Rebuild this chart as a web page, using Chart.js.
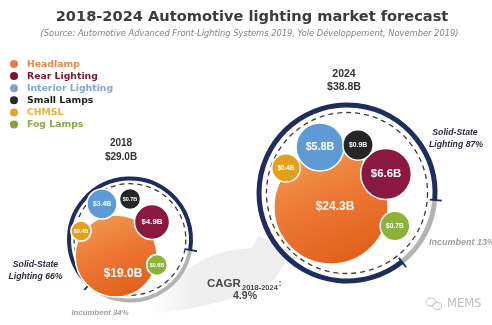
<!DOCTYPE html>
<html>
<head>
<meta charset="utf-8">
<script src="https://cdn.jsdelivr.net/npm/chart.js@4.4.1/dist/chart.umd.min.js"></script>
<style>
  html, body { margin: 0; padding: 0; background: #fff; }
  #wrap { width: 492px; height: 325px; }
</style>
</head>
<body>
<div id="wrap"><canvas id="lightingChart" width="492" height="325"></canvas></div>
<script>
// Automotive lighting market, $B per category
const categories = ['Headlamp', 'Rear Lighting', 'Interior Lighting', 'Small Lamps', 'CHMSL', 'Fog Lamps'];
const years = ['2018', '2024'];
const value2018 = [19.0, 4.9, 3.4, 0.7, 0.4, 0.6];
const value2024 = [24.3, 6.6, 5.8, 0.9, 0.4, 0.7];
const totals = [29.0, 38.8];
const solidStateShare = [66, 87];
const incumbentShare = [34, 13];
const cagrValue = 4.9;

// colours
const dotColors = ['#ea7530', '#8a1840', '#5e9bd6', '#262626', '#e2a11c', '#8db23a'];
const legendDots = ['#e38044', '#7e1433', '#7aa3d3', '#2a2a2a', '#e0a62a', '#8ca040'];
const legendText = ['#e5894e', '#7b1734', '#82a7cf', '#1e1e1e', '#e7b43a', '#8ca64a'];
const NAVY = '#1e2d5c';

// layout (chart units; the hidden scales run 0..492 and 0..325)
const ringCenters = [[130, 239.5], [347, 193]];
const ringRadius = [61, 88];
const ringWidth = [4, 5];
const incumbentMid = [71, 28]; // degrees, clockwise from 3 o'clock
const bubbleSpots = [
  [[116, 256], [152, 222], [102, 204], [130, 199], [81, 231], [157, 265]],
  [[331, 207], [386, 174], [320, 147], [358, 145], [286, 168], [395, 226]]
];
const labelNudge = [[7, 18], [4, 0]]; // headlamp label offset per year

// bubble radius grows with the category's share of the year total
function bubbleRadius(v, total, ring) {
  return ring * (0.154 + 0.79 * v / total);
}

function fillFor(ctx) {
  const i = ctx.dataIndex;
  if (i !== 0 || !ctx.raw || !ctx.chart.chartArea) return dotColors[i] || dotColors[0];
  const { x, y } = ctx.chart.scales;
  const cx = x.getPixelForValue(ctx.raw.x), cy = y.getPixelForValue(ctx.raw.y);
  const r = ctx.raw.r;
  const g = ctx.chart.ctx.createLinearGradient(cx - r * 0.6, cy - r, cx + r * 0.3, cy + r);
  g.addColorStop(0, '#f39a50');
  g.addColorStop(0.5, '#ec7633');
  g.addColorStop(1, '#e0601c');
  return g;
}

const valueSets = [value2018, value2024];
const datasets = years.map((yr, yi) => ({
  label: yr,
  data: valueSets[yi].map((v, i) => ({
    x: bubbleSpots[yi][i][0],
    y: bubbleSpots[yi][i][1],
    r: bubbleRadius(v, totals[yi], ringRadius[yi]),
    v: v
  })),
  backgroundColor: fillFor,
  borderColor: '#ffffff',
  borderWidth: 1.5
}));

function text(c, str, x, y, font, color, align, base) {
  c.font = font;
  c.fillStyle = color;
  c.textAlign = align || 'center';
  c.textBaseline = base || 'middle';
  c.fillText(str, x, y);
}

// pale growth arrow sweeping from the 2018 ring to the 2024 ring
function drawSwoosh(c) {
  const g = c.createLinearGradient(150, 0, 295, 0);
  g.addColorStop(0, 'rgba(236,236,236,0)');
  g.addColorStop(0.3, 'rgba(236,236,236,0.85)');
  g.addColorStop(1, '#ededed');
  c.save();
  c.fillStyle = g;
  c.beginPath();
  c.moveTo(148, 314);
  c.quadraticCurveTo(232, 306, 274, 280);
  c.lineTo(292, 252);
  c.lineTo(258, 236);
  c.lineTo(252, 248);
  c.quadraticCurveTo(196, 250, 166, 292);
  c.closePath();
  c.fill();
  c.restore();
}

function drawRing(c, px, py, R, yi) {
  const span = incumbentShare[yi] / 100 * Math.PI * 2;
  const mid = incumbentMid[yi] * Math.PI / 180;
  const a0 = mid - span / 2, a1 = mid + span / 2;
  c.save();
  c.lineWidth = ringWidth[yi];
  c.strokeStyle = NAVY;
  c.beginPath();
  c.arc(px, py, R, a1, a0 + Math.PI * 2);
  c.stroke();
  c.strokeStyle = '#b3b3b3';
  c.beginPath();
  c.arc(px, py, R, a0, a1);
  c.stroke();
  // boundary ticks between solid-state and incumbent arcs
  c.strokeStyle = NAVY;
  c.lineWidth = 1.8;
  [a0, a1].forEach(a => {
    c.beginPath();
    c.moveTo(px + (R - 5) * Math.cos(a), py + (R - 5) * Math.sin(a));
    c.lineTo(px + (R + 7) * Math.cos(a), py + (R + 7) * Math.sin(a));
    c.stroke();
  });
  // inner dashed guide
  c.setLineDash([5, 4]);
  c.lineWidth = 1.3;
  c.strokeStyle = '#3a3a3a';
  c.beginPath();
  c.arc(px, py, R * 0.915, 0, Math.PI * 2);
  c.stroke();
  c.restore();
}

const infographic = {
  id: 'infographic',
  beforeDatasetsDraw(chart) {
    const c = chart.ctx;
    const { x, y } = chart.scales;
    drawSwoosh(c);
    years.forEach((yr, yi) => {
      const px = x.getPixelForValue(ringCenters[yi][0]);
      const py = y.getPixelForValue(ringCenters[yi][1]);
      drawRing(c, px, py, ringRadius[yi], yi);
    });
  },
  afterDatasetsDraw(chart) {
    const c = chart.ctx;
    c.save();

    // values inside bubbles
    chart.data.datasets.forEach((ds, yi) => {
      chart.getDatasetMeta(yi).data.forEach((el, i) => {
        const r = el.options.radius;
        const size = Math.min(12, Math.max(5.5, r * 0.45));
        let lx = el.x, ly = el.y;
        if (i === 0) { lx += labelNudge[yi][0]; ly += labelNudge[yi][1]; }
        text(c, '$' + ds.data[i].v.toFixed(1) + 'B', lx, ly,
          'bold ' + size + 'px "Liberation Sans", Arial, sans-serif', '#ffffff');
      });
    });

    // title
    text(c, '2018-2024 Automotive lighting market forecast', 252, 21,
      'bold 14.6px "DejaVu Sans", Verdana, sans-serif', '#3b3b3b', 'center', 'alphabetic');
    text(c, '(Source: Automotive Advanced Front-Lighting Systems 2019, Yole Développement, November 2019)',
      249.5, 35.5, 'italic 8.3px "DejaVu Sans", Verdana, sans-serif', '#808080', 'center', 'alphabetic');

    // legend
    categories.forEach((cat, i) => {
      const ry = 64 + i * 12.1;
      c.fillStyle = legendDots[i];
      c.beginPath();
      c.arc(14, ry, 4, 0, Math.PI * 2);
      c.fill();
      text(c, cat, 27, ry + 0.5, 'bold 9.3px "DejaVu Sans", Verdana, sans-serif', legendText[i], 'left');
    });

    // year headers
    const head = [[121, 143.7, 157, 10], [344, 74, 87.5, 10.5]];
    years.forEach((yr, yi) => {
      const h = head[yi];
      text(c, yr, h[0], h[1], 'bold ' + h[3] + 'px "Liberation Sans", Arial, sans-serif', '#333333');
      text(c, '$' + totals[yi].toFixed(1) + 'B', h[0], h[2],
        'bold ' + h[3] + 'px "Liberation Sans", Arial, sans-serif', '#333333');
    });

    // solid-state / incumbent notes
    const ssFont = 'italic bold 8.7px "Liberation Sans", Arial, sans-serif';
    text(c, 'Solid-State', 35.5, 265, ssFont, '#2a2a3a');
    text(c, 'Lighting ' + solidStateShare[0] + '%', 35.5, 277, ssFont, '#2a2a3a');
    text(c, 'Solid-State', 455, 133, ssFont, '#2a2a3a');
    text(c, 'Lighting ' + solidStateShare[1] + '%', 456, 144.5, ssFont, '#2a2a3a');
    text(c, 'Incumbent ' + incumbentShare[0] + '%', 100, 313,
      'italic bold 7.8px "Liberation Sans", Arial, sans-serif', '#a0a0a0');
    text(c, 'Incumbent ' + incumbentShare[1] + '%', 429, 243,
      'italic bold 9px "Liberation Sans", Arial, sans-serif', '#a0a0a0', 'left');

    // CAGR
    text(c, 'CAGR', 207, 287, 'bold 11.5px "Liberation Sans", Arial, sans-serif', '#474747', 'left', 'alphabetic');
    text(c, '2018-2024', 242, 289.5, 'bold 7.5px "Liberation Sans", Arial, sans-serif', '#474747', 'left', 'alphabetic');
    text(c, ':', 278.5, 286, 'bold 9px "Liberation Sans", Arial, sans-serif', '#474747', 'left', 'alphabetic');
    text(c, cagrValue.toFixed(1) + '%', 245, 298.5, 'bold 10.5px "Liberation Sans", Arial, sans-serif', '#474747', 'center', 'alphabetic');

    // watermark
    c.strokeStyle = '#c4c4c4';
    c.lineWidth = 1;
    c.beginPath(); c.ellipse(431, 302, 5, 4, 0, 0, Math.PI * 2); c.stroke();
    c.beginPath(); c.ellipse(437, 306, 4.5, 3.5, 0, 0, Math.PI * 2); c.stroke();
    text(c, 'MEMS', 447, 304.5, '11.5px "DejaVu Sans", Verdana, sans-serif', '#bdbdbd', 'left');

    c.restore();
  }
};

new Chart(document.getElementById('lightingChart'), {
  type: 'bubble',
  data: { datasets },
  options: {
    responsive: false,
    animation: false,
    events: [],
    layout: { padding: 0, autoPadding: false },
    plugins: {
      legend: { display: false },
      tooltip: { enabled: false },
      title: { display: false }
    },
    scales: {
      x: { type: 'linear', min: 0, max: 492, display: false },
      y: { type: 'linear', min: 0, max: 325, reverse: true, display: false }
    }
  },
  plugins: [infographic]
});
</script>
</body>
</html>
